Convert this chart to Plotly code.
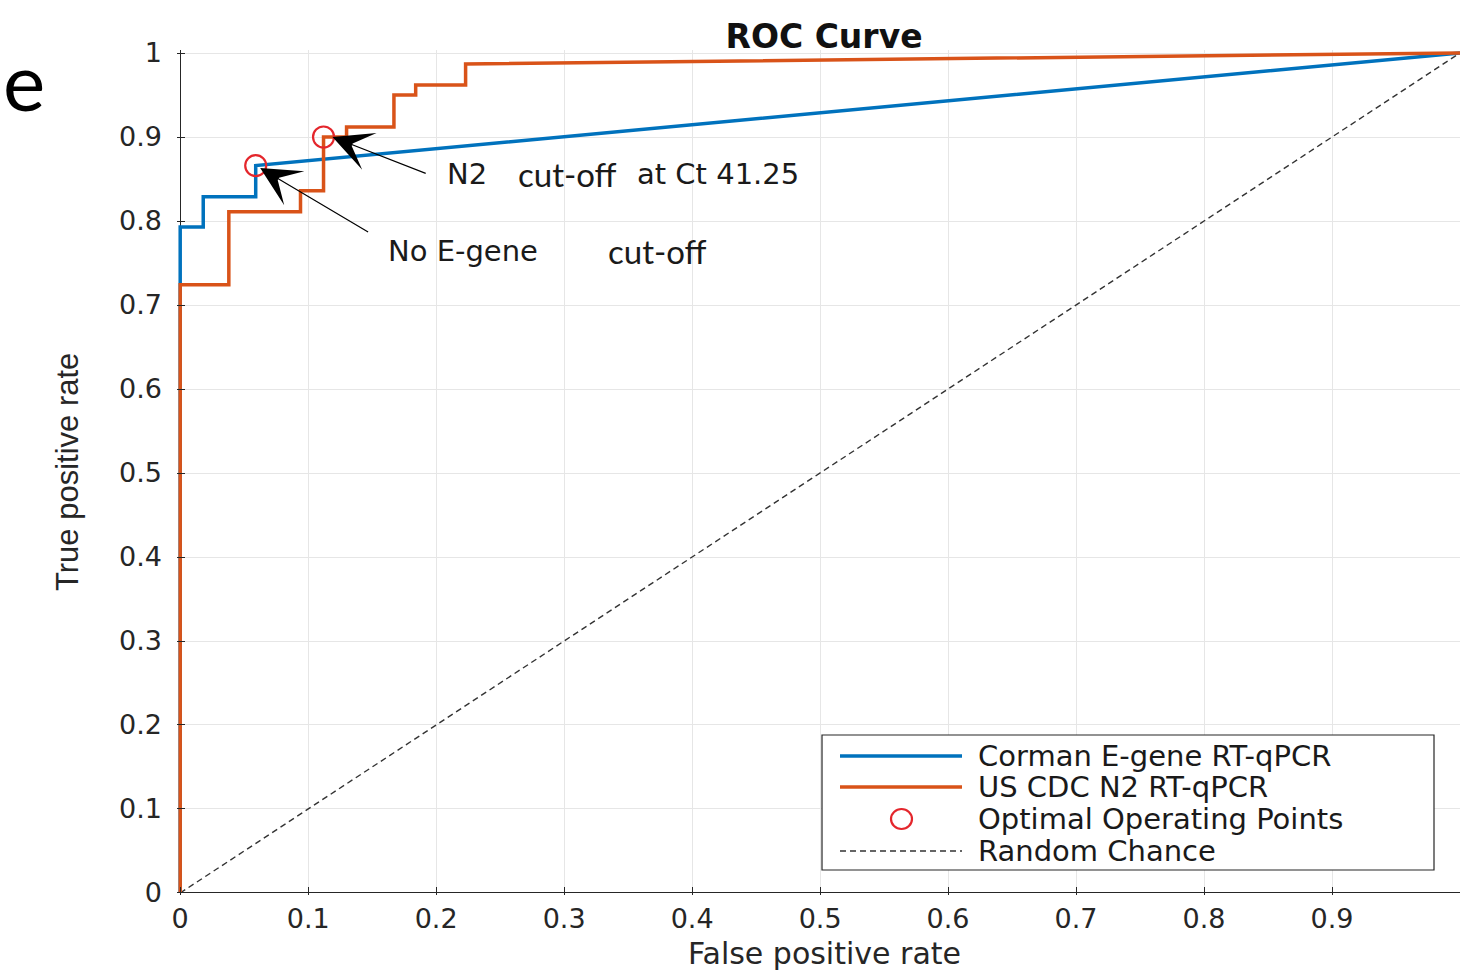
import plotly.graph_objects as go

# ---------------- data ----------------
fpr_egene = [0, 0, 0.018, 0.018, 0.059, 0.059, 1.0]
tpr_egene = [0, 0.793, 0.793, 0.829, 0.829, 0.866, 1.0]

fpr_n2 = [0, 0, 0.038, 0.038, 0.094, 0.094, 0.112, 0.112, 0.130, 0.130,
          0.167, 0.167, 0.184, 0.184, 0.223, 0.223, 1.0]
tpr_n2 = [0, 0.724, 0.724, 0.811, 0.811, 0.836, 0.836, 0.900, 0.900, 0.912,
          0.912, 0.950, 0.950, 0.962, 0.962, 0.987, 1.0]

opt_fpr = [0.059, 0.112]
opt_tpr = [0.866, 0.900]

chance_x = [0, 1]
chance_y = [0, 1]

tick_vals = [0, 0.1, 0.2, 0.3, 0.4, 0.5, 0.6, 0.7, 0.8, 0.9, 1]
tick_text = ["0", "0.1", "0.2", "0.3", "0.4", "0.5", "0.6", "0.7", "0.8", "0.9", "1"]

legend_labels = ["Corman E-gene RT-qPCR", "US CDC N2 RT-qPCR",
                 "Optimal Operating Points", "Random Chance"]
title_text = "ROC Curve"
x_title = "False positive rate"
y_title = "True positive rate"

# ---------------- layout helpers ----------------
W, H = 1460, 971
ML, MR, MT, MB = 177, 0, 50, 76
PW, PH = W - ML - MR, H - MT - MB

def px(x):
    return (x - ML) / PW

def py(y):
    return (H - MB - y) / PH

BLUE = "#0072BD"
ORANGE = "#D95319"
RED = "#E4262C"
AX = "#262626"
HELV = "DejaVu Sans"
CAL = "Lato"

fig = go.Figure()

fig.add_trace(go.Scatter(x=chance_x, y=chance_y, mode="lines",
                         line=dict(color="#333333", width=1.4, dash="6px,4px"),
                         showlegend=False, hoverinfo="skip"))
fig.add_trace(go.Scatter(x=fpr_egene, y=tpr_egene, mode="lines",
                         line=dict(color=BLUE, width=3.5), name=legend_labels[0],
                         showlegend=False))
fig.add_trace(go.Scatter(x=fpr_n2, y=tpr_n2, mode="lines",
                         line=dict(color=ORANGE, width=3.5), name=legend_labels[1],
                         showlegend=False))
fig.add_trace(go.Scatter(x=opt_fpr, y=opt_tpr, mode="markers",
                         marker=dict(symbol="circle-open", size=21,
                                     line=dict(color=RED, width=2.2), color=RED),
                         name=legend_labels[2], showlegend=False, cliponaxis=False))

axis_common = dict(
    tickmode="array", tickvals=tick_vals, ticktext=tick_text,
    ticks="inside", ticklen=8, tickwidth=1, tickcolor=AX,
    showgrid=True, gridcolor="#e6e6e6", gridwidth=1,
    zeroline=True, zerolinecolor=AX, zerolinewidth=1.2,
    showline=False,
    tickfont=dict(family=HELV, size=27, color=AX),
)

fig.update_layout(
    width=W, height=H,
    margin=dict(l=ML, r=MR, t=MT, b=MB),
    paper_bgcolor="white", plot_bgcolor="white",
    showlegend=False,
    xaxis=dict(range=[-0.0025, 1.0], ticklabelstandoff=5, **axis_common),
    yaxis=dict(range=[-0.0024, 1.0036], ticklabelstandoff=14, **axis_common),
    title=dict(text="<b>" + title_text + "</b>", x=824 / W, xanchor="center",
               y=1 - 36 / H, yanchor="middle",
               font=dict(family=HELV, size=33, color="#111111")),
)

shapes = []
annotations = []

# white patches behind pasted text
shapes.append(dict(type="rect", xref="paper", yref="paper", layer="between",
                   x0=px(507), x1=px(630), y0=py(224), y1=py(160),
                   fillcolor="white", line=dict(width=0)))
shapes.append(dict(type="rect", xref="paper", yref="paper", layer="between",
                   x0=px(597), x1=px(715), y0=py(290), y1=py(226),
                   fillcolor="white", line=dict(width=0)))

# arrows
annotations.append(dict(x=0.119, y=0.900, ax=0.193, ay=0.856, xref="x", yref="y",
                        axref="x", ayref="y", text="", showarrow=True,
                        arrowhead=3, arrowsize=5.5, arrowwidth=1.2,
                        arrowcolor="black", standoff=0))
annotations.append(dict(x=0.0625, y=0.863, ax=0.148, ay=0.786, xref="x", yref="y",
                        axref="x", ayref="y", text="", showarrow=True,
                        arrowhead=3, arrowsize=5.5, arrowwidth=1.2,
                        arrowcolor="black", standoff=0))

def label(text, xl, yc, family, size):
    annotations.append(dict(x=px(xl), y=py(yc), xref="paper", yref="paper",
                            xanchor="left", yanchor="middle", text=text,
                            showarrow=False,
                            font=dict(family=family, size=size, color="#1a1a1a")))

label("N2", 445, 174, HELV, 29)
label("cut-off", 516, 174, CAL, 33)
label("at Ct 41.25", 635, 174, HELV, 29)
label("No E-gene", 386, 251, HELV, 29)
label("cut-off", 606, 251, CAL, 33)

# big partial letter at top-left
annotations.append(dict(x=px(1), y=py(80), xref="paper", yref="paper",
                        xanchor="left", yanchor="middle", text="e", showarrow=False,
                        font=dict(family=CAL, size=80, color="black")))

# axis titles
annotations.append(dict(x=px(824), y=py(953), xref="paper", yref="paper",
                        xanchor="center", yanchor="middle", text=x_title,
                        showarrow=False, font=dict(family=HELV, size=30, color=AX)))
annotations.append(dict(x=px(67), y=py(472), xref="paper", yref="paper",
                        xanchor="center", yanchor="middle", text=y_title, textangle=-90,
                        showarrow=False,
                        font=dict(family="Liberation Sans", size=31, color=AX)))

# manual legend
shapes.append(dict(type="rect", xref="paper", yref="paper", layer="above",
                   x0=px(822), x1=px(1434), y0=py(870), y1=py(735),
                   fillcolor="white", line=dict(color=AX, width=1.2)))
row_y = [756, 787, 819, 851]
shapes.append(dict(type="line", xref="paper", yref="paper", layer="above",
                   x0=px(840), x1=px(962), y0=py(row_y[0]), y1=py(row_y[0]),
                   line=dict(color=BLUE, width=3.5)))
shapes.append(dict(type="line", xref="paper", yref="paper", layer="above",
                   x0=px(840), x1=px(962), y0=py(row_y[1]), y1=py(row_y[1]),
                   line=dict(color=ORANGE, width=3.5)))
shapes.append(dict(type="circle", xref="paper", yref="paper", layer="above",
                   x0=px(891), x1=px(912), y0=py(row_y[2] + 10), y1=py(row_y[2] - 10),
                   line=dict(color=RED, width=2.2)))
shapes.append(dict(type="line", xref="paper", yref="paper", layer="above",
                   x0=px(840), x1=px(962), y0=py(row_y[3]), y1=py(row_y[3]),
                   line=dict(color="#333333", width=1.4, dash="6px,4px")))
for lab, yy in zip(legend_labels, row_y):
    annotations.append(dict(x=px(976), y=py(yy), xref="paper", yref="paper",
                            xanchor="left", yanchor="middle", text=lab,
                            showarrow=False,
                            font=dict(family=HELV, size=29, color="#1a1a1a")))

fig.update_layout(shapes=shapes, annotations=annotations)

fig.write_html("out.html")
